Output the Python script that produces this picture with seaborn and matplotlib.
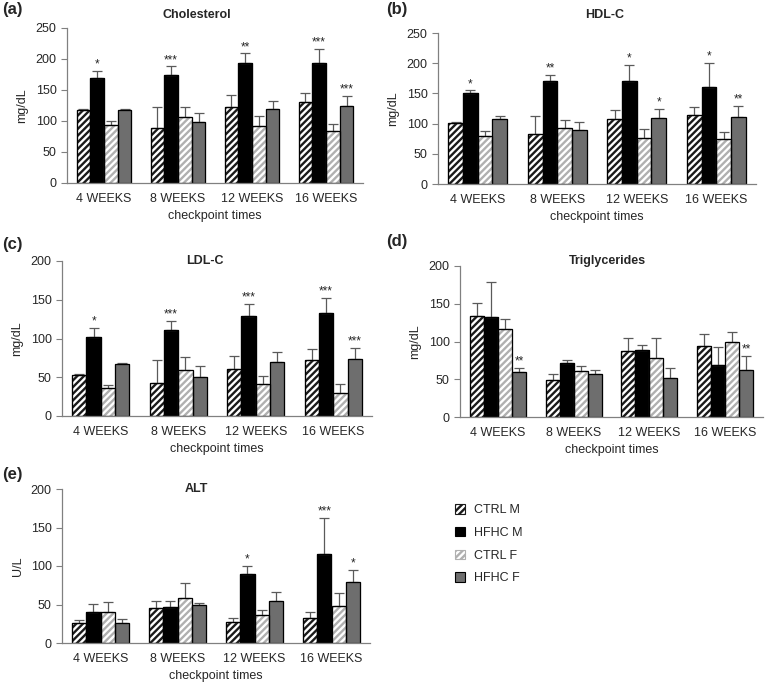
import numpy as np
import pandas as pd
import matplotlib
matplotlib.use("Agg")
import matplotlib.pyplot as plt
import seaborn as sns
from matplotlib.patches import Rectangle, Patch

# ---------------- data ----------------
weeks = ["4 WEEKS", "8 WEEKS", "12 WEEKS", "16 WEEKS"]
groups = ["CTRL M", "HFHC M", "CTRL F", "HFHC F"]

# rows: CTRL M, HFHC M, CTRL F, HFHC F ; columns: weeks
chol_mean = [[117, 88, 123, 130], [170, 174, 193, 194], [94, 106, 92, 84], [117, 98, 119, 124]]
chol_err = [[3, 34, 19, 15], [11, 14, 16, 22], [6, 17, 16, 11], [3, 15, 13, 16]]
chol_stars = [(0, 1, "*"), (1, 1, "***"), (2, 1, "**"), (3, 1, "***"), (3, 3, "***")]

hdl_mean = [[101, 83, 108, 115], [151, 170, 170, 160], [79, 92, 76, 74], [108, 90, 110, 111]]
hdl_err = [[2, 29, 14, 12], [4, 11, 27, 40], [8, 14, 15, 12], [5, 12, 15, 18]]
hdl_stars = [(0, 1, "*"), (1, 1, "**"), (2, 1, "*"), (2, 3, "*"), (3, 1, "*"), (3, 3, "**")]

ldl_mean = [[53, 42.5, 61, 72], [102, 111.6, 129.6, 133.5], [36, 59, 41, 30], [66.5, 50.6, 70, 73]]
ldl_err = [[1.5, 30, 17, 14], [12, 11.6, 15, 19], [4, 17, 11, 11], [2, 14, 13, 14.5]]
ldl_stars = [(0, 1, "*"), (1, 1, "***"), (2, 1, "***"), (3, 1, "***"), (3, 3, "***")]

tg_mean = [[134, 48.6, 87.4, 94.5], [132, 71.5, 88.7, 69.3], [116, 61, 78, 100], [59.6, 57, 51, 62]]
tg_err = [[17, 8, 17.7, 16], [47, 4, 6.6, 24], [14, 6.6, 27, 12.4], [5, 5, 13.7, 19]]
tg_stars = [(0, 3, "**"), (3, 3, "**")]

alt_mean = [[26, 46, 27, 32], [40, 47, 89.6, 116], [40, 58, 37, 48.5], [26, 49, 54, 79.7]]
alt_err = [[3.5, 8, 6, 8], [11, 8, 10, 46], [13, 20, 6.5, 17], [5, 3, 12.5, 15]]
alt_stars = [(2, 1, "*"), (3, 1, "***"), (3, 3, "*")]

# ---------------- style ----------------
sns.set_style("white")
plt.rcParams["font.family"] = ["Liberation Sans", "DejaVu Sans"]
plt.rcParams["hatch.linewidth"] = 1.7

face_colors = ["#ffffff", "#000000", "#ffffff", "#6e6e6e"]
hatch_colors = ["#1a1a1a", "#000000", "#b0b0b0", "#6e6e6e"]
hatches = ["/////", "", "/////", ""]

W, H = 766, 685
fig = plt.figure(figsize=(W / 100, H / 100), dpi=100)
FS = 9


def px_rect(left, right, top, bottom):
    return [left / W, 1 - bottom / H, (right - left) / W, (bottom - top) / H]


def panel(rect, means, errs, stars, ylabel, ymax, ystep):
    ax = fig.add_axes(rect)
    rows = []
    for gi, g in enumerate(groups):
        for wi, w in enumerate(weeks):
            rows.append({"week": w, "group": g, "value": means[gi][wi]})
    df = pd.DataFrame(rows)
    sns.barplot(data=df, x="week", y="value", hue="group", order=weeks,
                hue_order=groups, palette=face_colors, errorbar=None,
                width=0.74, gap=0, saturation=1, legend=False, ax=ax)
    bar_conts = list(ax.containers)
    tops = {}
    for gi, cont in enumerate(bar_conts):
        for wi, bar in enumerate(cont.patches):
            bar.set_facecolor(face_colors[gi])
            bar.set_edgecolor(hatch_colors[gi])
            bar.set_hatch(hatches[gi])
            bar.set_linewidth(0.8)
            bx = bar.get_x() + bar.get_width() / 2
            h = bar.get_height()
            e = errs[gi][wi]
            ax.errorbar(bx, h, yerr=[[0], [e]], fmt="none", ecolor="#5a5a5a",
                        elinewidth=0.9, capsize=3.3, capthick=0.9, zorder=1)
            ax.add_patch(Rectangle((bar.get_x(), 0), bar.get_width(), h,
                                   fill=False, edgecolor="black", lw=0.9,
                                   zorder=bar.get_zorder() + 0.1))
            tops[(wi, gi)] = (bx, h + e)
    for wi, gi, s in stars:
        bx, t = tops[(wi, gi)]
        ax.annotate(s, (bx, t), xytext=(0, 0.3), textcoords="offset points",
                    ha="center", va="bottom", fontsize=8.5)
    ax.set_xlim(-0.5, 3.5)
    ax.set_ylim(0, ymax)
    ax.set_yticks(np.arange(0, ymax + 1, ystep))
    ax.set_xticks(range(4))
    ax.set_xticks([-0.5, 0.5, 1.5, 2.5, 3.5], minor=True)
    ax.set_xticklabels(weeks)
    ax.tick_params(axis="x", which="major", length=0, labelsize=FS, pad=7)
    ax.tick_params(axis="x", which="minor", length=4, color="#808080", direction="out")
    ax.tick_params(axis="y", length=4, color="#808080", direction="out", labelsize=FS, left=True)
    for side in ["top", "right"]:
        ax.spines[side].set_visible(False)
    for side in ["left", "bottom"]:
        ax.spines[side].set_color("#808080")
        ax.spines[side].set_linewidth(0.9)
    ax.set_xlabel("checkpoint times", fontsize=FS, labelpad=4)
    ax.set_ylabel(ylabel, fontsize=FS, labelpad=5)
    return ax


panel(px_rect(67, 363, 28, 183), chol_mean, chol_err, chol_stars, "mg/dL", 250, 50)
panel(px_rect(438, 756, 33, 184), hdl_mean, hdl_err, hdl_stars, "mg/dL", 250, 50)
panel(px_rect(62, 372, 261, 416), ldl_mean, ldl_err, ldl_stars, "mg/dL", 200, 50)
panel(px_rect(460, 763, 266, 417), tg_mean, tg_err, tg_stars, "mg/dL", 200, 50)
panel(px_rect(62, 370, 489, 643), alt_mean, alt_err, alt_stars, "U/L", 200, 50)

# titles
titles = [("Cholesterol", 197, 15), ("HDL-C", 605, 15), ("LDL-C", 205, 261),
          ("Triglycerides", 607, 261), ("ALT", 196, 489)]
for t, x, y in titles:
    fig.text(x / W, 1 - y / H, t, ha="center", va="center", fontsize=FS, fontweight="bold")

# panel labels
labels = [("(a)", 2, 2), ("(b)", 386, 2), ("(c)", 2, 237), ("(d)", 386, 234), ("(e)", 2, 467)]
for t, x, y in labels:
    fig.text(x / W, 1 - y / H, t, ha="left", va="top", fontsize=12, fontweight="bold")

# legend
handles = [Patch(facecolor=face_colors[i], edgecolor=hatch_colors[i] if hatches[i] else "black",
                 hatch=hatches[i], linewidth=0.8) for i in range(4)]
fig.legend(handles, groups, loc="upper left", bbox_to_anchor=(455 / W, 1 - 504 / H),
           frameon=False, fontsize=FS, handlelength=0.8, handleheight=0.8,
           handletextpad=0.75, labelspacing=0.85, borderpad=0, borderaxespad=0)

fig.savefig("out.png", dpi=100)
